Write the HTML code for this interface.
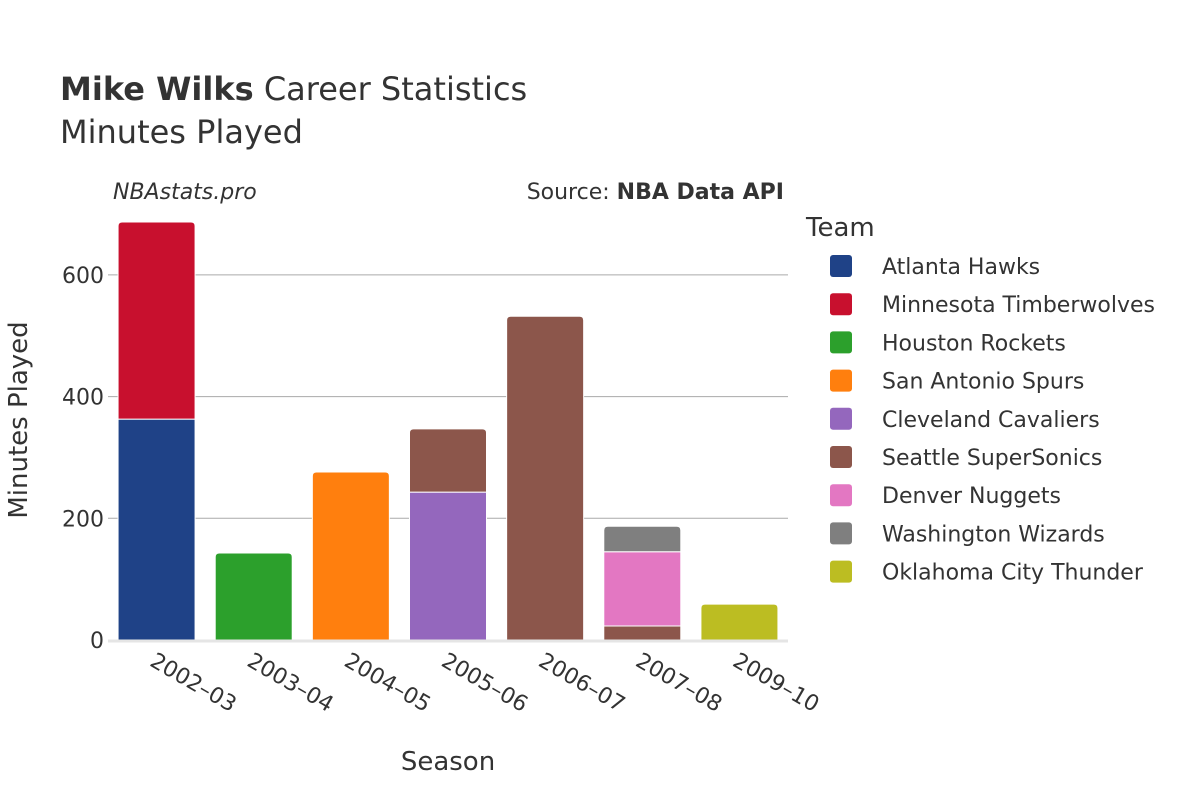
<!DOCTYPE html>
<html><head><meta charset="utf-8"><style>
body{margin:0;background:#fff;}
svg text{font-family:"DejaVu Sans","Liberation Sans",sans-serif;fill:#333;}
</style></head><body>
<svg id="chart" width="1200" height="800">
<text x="60" y="100" font-size="32"><tspan font-weight="bold">Mike Wilks</tspan> Career Statistics</text>
<text x="60" y="143" font-size="32">Minutes Played</text>
<text x="113" y="199" font-size="22" font-style="italic">NBAstats.pro</text>
<text x="784" y="199" font-size="22" text-anchor="end">Source: <tspan font-weight="bold">NBA Data API</tspan></text>
<g id="grid"></g><g id="bars"></g><g id="axes"></g>
<text x="448" y="770" font-size="26" text-anchor="middle">Season</text>
<text transform="translate(27,420) rotate(-90)" font-size="26" text-anchor="middle">Minutes Played</text>
<g id="legend"></g>
</svg>
<script>
const seasons=["2002–03","2003–04","2004–05","2005–06","2006–07","2007–08","2009–10"];
const teams=["Atlanta Hawks","Minnesota Timberwolves","Houston Rockets","San Antonio Spurs","Cleveland Cavaliers","Seattle SuperSonics","Denver Nuggets","Washington Wizards","Oklahoma City Thunder"];
const colors=["#1f4287","#c8102e","#2ca02c","#ff7f0e","#9467bd","#8c564b","#e377c2","#7f7f7f","#bcbd22"];
// stacks per season: [teamIndex, minutes] bottom to top
const stacks=[[[0,363],[1,324]],[[2,143]],[[3,276]],[[4,243],[5,104]],[[5,532]],[[5,23],[6,122],[7,42]],[[8,59]]];
const yTicks=[0,200,400,600];
const NS="http://www.w3.org/2000/svg";
const x0=108,x1=788,yBase=640,pxPer=0.6085;
const bandW=(x1-x0)/seasons.length,barW=77;
const y=v=>yBase-v*pxPer;
const bx=i=>x0+bandW*i+(bandW-barW)/2;
function mk(tag,attrs,parent){const e=document.createElementNS(NS,tag);for(const k in attrs)e.setAttribute(k,attrs[k]);parent.appendChild(e);return e;}
const grid=document.getElementById('grid'),axes=document.getElementById('axes'),bars=document.getElementById('bars'),legend=document.getElementById('legend');
yTicks.forEach(t=>{
 if(t>0){const l=mk('line',{x1:x0,x2:x1,y1:y(t),y2:y(t),stroke:'#aaa','stroke-width':1},grid);
 
 }
 const tx=mk('text',{x:x0-4,y:y(t)+8,'font-size':22,'text-anchor':'end'},axes);tx.textContent=t;
 
 
});
const zl=mk('line',{x1:x0,x2:x1,y1:yBase+1,y2:yBase+1,stroke:'#e5e5e5','stroke-width':3},axes);


stacks.forEach((st,i)=>{
 let cum=0;
 st.forEach(([ti,v],j)=>{
  const top=y(cum+v),bot=y(cum);const x=bx(i);const r=j===st.length-1?4:0;
  const h=bot-top;
  const d=`M${x},${bot} L${x},${top+r} Q${x},${top} ${x+r},${top} L${x+barW-r},${top} Q${x+barW},${top} ${x+barW},${top+r} L${x+barW},${bot} Z`;
  const p=mk('path',{d:d,fill:colors[ti],stroke:'#fff','stroke-width':1},bars);
  
  
  cum+=v;
 });
 const cx=x0+bandW*(i+0.5);
 const t=mk('text',{x:cx-8,y:665,'font-size':22,transform:`rotate(30 ${cx-8} 665)`},axes);t.textContent=seasons[i];
 
 
});
const lt=mk('text',{x:806,y:236,'font-size':26},legend);lt.textContent='Team';


teams.forEach((n,i)=>{
 const g=mk('g',{},legend);
 
 
 const yy=266+i*38.2;
 mk('rect',{x:830,y:yy-11,width:22,height:22,rx:3,fill:colors[i]},g);
 const t=mk('text',{x:882,y:yy+8,'font-size':22},g);t.textContent=n;
});
</script>
</body></html>
